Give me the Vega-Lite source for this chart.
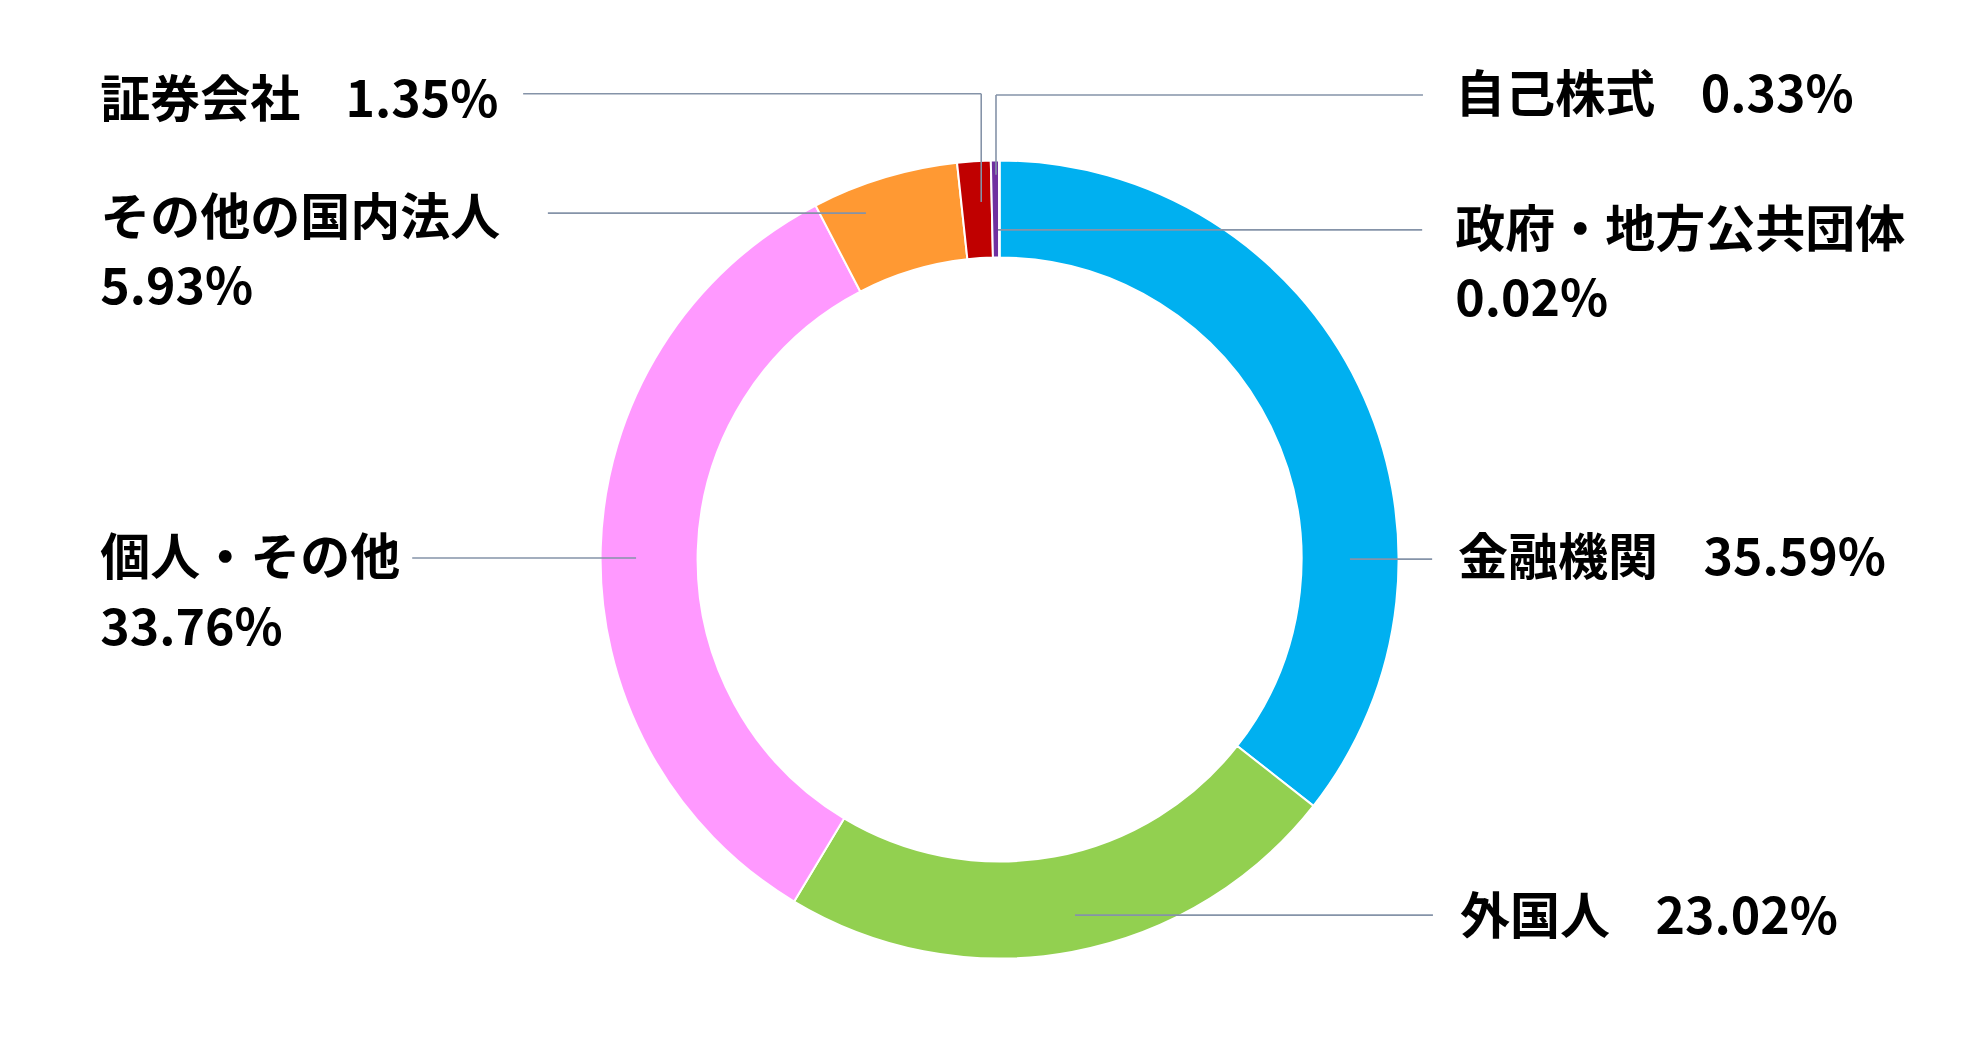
{
  "$schema": "https://vega.github.io/schema/vega-lite/v6.json",
  "width": 1986,
  "height": 1052,
  "autosize": {"type": "fit", "contains": "padding"},
  "padding": 0,
  "background": "white",
  "config": {"view": {"stroke": null}},
  "datasets": {
    "shares": [
      {"区分": "金融機関", "比率": 35.59, "順": 1},
      {"区分": "外国人", "比率": 23.02, "順": 2},
      {"区分": "個人・その他", "比率": 33.76, "順": 3},
      {"区分": "その他の国内法人", "比率": 5.93, "順": 4},
      {"区分": "証券会社", "比率": 1.35, "順": 5},
      {"区分": "自己株式", "比率": 0.33, "順": 6},
      {"区分": "政府・地方公共団体", "比率": 0.02, "順": 7}
    ],
    "labels": [
      {"text": "証券会社\u00a0\u00a0\u00a0\u00a01.35%", "x": -2.254, "y": 1.146},
      {"text": "その他の国内法人", "x": -2.254, "y": 0.85},
      {"text": "5.93%", "x": -2.254, "y": 0.677},
      {"text": "個人・その他", "x": -2.254, "y": 0.0},
      {"text": "33.76%", "x": -2.254, "y": -0.176},
      {"text": "自己株式\u00a0\u00a0\u00a0\u00a00.33%", "x": 1.142, "y": 1.158},
      {"text": "政府・地方公共団体", "x": 1.142, "y": 0.82},
      {"text": "0.02%", "x": 1.142, "y": 0.649},
      {"text": "金融機関\u00a0\u00a0\u00a0\u00a035.59%", "x": 1.149, "y": 0.0},
      {"text": "外国人\u00a0\u00a0\u00a0\u00a023.02%", "x": 1.154, "y": -0.9}
    ],
    "leaders": [
      {"x": -1.194, "y": 1.167, "x2": -0.046, "y2": 1.167},
      {"x": -0.046, "y": 1.167, "x2": -0.046, "y2": 0.896},
      {"x": -1.132, "y": 0.868, "x2": -0.335, "y2": 0.868},
      {"x": -1.472, "y": 0.004, "x2": -0.911, "y2": 0.004},
      {"x": 1.061, "y": 1.164, "x2": -0.009, "y2": 1.164},
      {"x": -0.009, "y": 1.164, "x2": -0.009, "y2": 0.964},
      {"x": -0.004, "y": 0.826, "x2": 1.059, "y2": 0.826},
      {"x": 0.878, "y": 0.001, "x2": 1.084, "y2": 0.001},
      {"x": 0.189, "y": -0.891, "x2": 1.086, "y2": -0.891}
    ]
  },
  "layer": [
    {
      "data": {"name": "shares"},
      "mark": {"type": "arc", "outerRadius": 399, "innerRadius": 302, "stroke": "white", "strokeWidth": 2},
      "encoding": {
        "theta": {"field": "比率", "type": "quantitative", "stack": true},
        "order": {"field": "順", "type": "ordinal"},
        "x": {"datum": 0, "type": "quantitative", "scale": {"domain": [-2.505, 2.472], "nice": false, "zero": false}, "axis": null},
        "y": {"datum": 0, "type": "quantitative", "scale": {"domain": [-1.234, 1.402], "nice": false, "zero": false}, "axis": null},
        "color": {
          "field": "区分",
          "type": "nominal",
          "scale": {
            "domain": ["金融機関", "外国人", "個人・その他", "その他の国内法人", "証券会社", "自己株式", "政府・地方公共団体"],
            "range": ["#00B0F0", "#92D050", "#FF99FF", "#FF9933", "#C00000", "#7030A0", "#002060"]
          },
          "legend": null
        }
      }
    },
    {
      "data": {"name": "leaders"},
      "mark": {"type": "rule", "color": "#8593A8", "strokeWidth": 1.6},
      "encoding": {
        "x": {"field": "x", "type": "quantitative", "scale": {"domain": [-2.505, 2.472], "nice": false, "zero": false}, "axis": null},
        "y": {"field": "y", "type": "quantitative", "scale": {"domain": [-1.234, 1.402], "nice": false, "zero": false}, "axis": null},
        "x2": {"field": "x2"},
        "y2": {"field": "y2"}
      }
    },
    {
      "data": {"name": "labels"},
      "mark": {
        "type": "text",
        "align": "left",
        "baseline": "middle",
        "font": "Noto Sans CJK JP",
        "fontWeight": "bold",
        "fontSize": 50,
        "color": "black"
      },
      "encoding": {
        "x": {"field": "x", "type": "quantitative", "scale": {"domain": [-2.505, 2.472], "nice": false, "zero": false}, "axis": null},
        "y": {"field": "y", "type": "quantitative", "scale": {"domain": [-1.234, 1.402], "nice": false, "zero": false}, "axis": null},
        "text": {"field": "text", "type": "nominal"}
      }
    }
  ]
}
